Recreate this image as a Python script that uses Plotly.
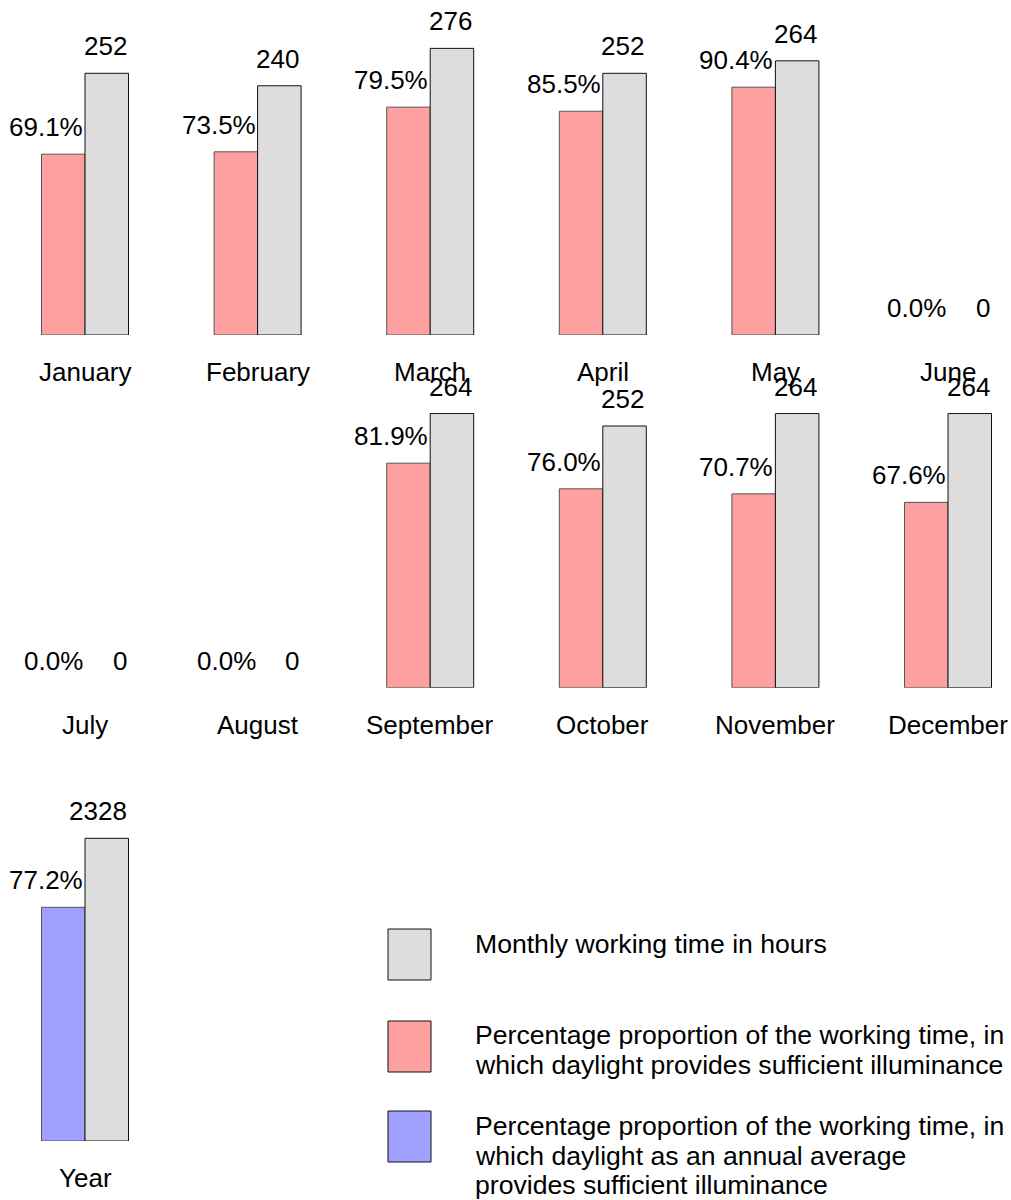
import plotly.graph_objects as go

# ---------------- data ----------------
months = ["January", "February", "March", "April", "May", "June",
          "July", "August", "September", "October", "November", "December"]
hours = [252, 240, 276, 252, 264, 0, 0, 0, 264, 252, 264, 264]
pct = [69.1, 73.5, 79.5, 85.5, 90.4, 0.0, 0.0, 0.0, 81.9, 76.0, 70.7, 67.6]
year_label = "Year"
year_hours = 2328
year_pct = 77.2

legend_lines = [
    ["Monthly working time in hours"],
    ["Percentage proportion of the working time, in",
     "which daylight provides sufficient illuminance"],
    ["Percentage proportion of the working time, in",
     "which daylight as an annual average",
     "provides sufficient illuminance"],
]

# ---------------- style ----------------
FONT = "Liberation Sans, Arial, sans-serif"
FS = 26
PINK = "#FFA0A0"
GREY = "#DDDDDD"
BLUE = "#A0A0FF"
W = 0.252   # bar width in x units
legend_colors = [GREY, PINK, BLUE]

H = 1200
def py(pix):
    return 1 - pix / H

fig = go.Figure()
annotations = []

rows = [("y", months[:6], hours[:6], pct[:6]),
        ("y2", months[6:], hours[6:], pct[6:])]

for yax, mnames, hrs, pcs in rows:
    xs = list(range(len(mnames)))
    daylight = [h * p / 100 for h, p in zip(hrs, pcs)]
    fig.add_bar(x=xs, y=daylight, width=W, offset=-W, yaxis=yax, xaxis="x",
                marker=dict(color=PINK, line=dict(color="#555555",
                                                  width=[1 if v > 0 else 0 for v in daylight])),
                showlegend=False, hoverinfo="skip")
    fig.add_bar(x=xs, y=hrs, width=W, offset=0, yaxis=yax, xaxis="x",
                marker=dict(color=GREY, line=dict(color="#111111",
                                                  width=[1 if v > 0 else 0 for v in hrs])),
                showlegend=False, hoverinfo="skip")
    for x, m, h, d, p in zip(xs, mnames, hrs, daylight, pcs):
        annotations.append(dict(x=x, y=d, xref="x", yref=yax, text=f"{p:.1f}%",
                                xanchor="right", yanchor="bottom", yshift=10,
                                showarrow=False))
        annotations.append(dict(x=x + W, y=h, xref="x", yref=yax, text=f"{h}",
                                xanchor="right", yanchor="bottom", yshift=10,
                                showarrow=False))
        annotations.append(dict(x=x, y=0, xref="x", yref=yax, text=m,
                                xanchor="center", yanchor="top", yshift=-20,
                                showarrow=False))

# year panel
year_day = year_hours * year_pct / 100
fig.add_bar(x=[0], y=[year_day], width=W, offset=-W, yaxis="y3", xaxis="x",
            marker=dict(color=BLUE, line=dict(color="#555555", width=1)),
            showlegend=False, hoverinfo="skip")
fig.add_bar(x=[0], y=[year_hours], width=W, offset=0, yaxis="y3", xaxis="x",
            marker=dict(color=GREY, line=dict(color="#111111", width=1)),
            showlegend=False, hoverinfo="skip")
annotations.append(dict(x=0, y=year_day, xref="x", yref="y3", text=f"{year_pct:.1f}%",
                        xanchor="right", yanchor="bottom", yshift=10, showarrow=False))
annotations.append(dict(x=W, y=year_hours, xref="x", yref="y3", text=f"{year_hours}",
                        xanchor="right", yanchor="bottom", yshift=10, showarrow=False))
annotations.append(dict(x=0, y=0, xref="x", yref="y3", text=year_label,
                        xanchor="center", yanchor="top", yshift=-20, showarrow=False))

# legend (custom)
shapes = []
box_tops = [929, 1021, 1111]
first_line_centers = [944, 1035, 1126]
LINE_STEP = 29.5
for top, c0, col, lines in zip(box_tops, first_line_centers, legend_colors, legend_lines):
    shapes.append(dict(type="rect", xref="paper", yref="paper",
                       x0=388 / 1011, x1=431 / 1011, y0=py(top + 51), y1=py(top),
                       fillcolor=col, line=dict(color="#111111", width=1)))
    for k, ln in enumerate(lines):
        annotations.append(dict(x=473 / 1011, y=py(c0 + k * LINE_STEP),
                                xref="paper", yref="paper", text=ln,
                                xanchor="left", yanchor="middle", align="left",
                                font=dict(size=26.6), showarrow=False))

x_unit = 172.6
x0 = -85 / x_unit
x1 = (1011 - 85) / x_unit

hidden = dict(visible=False, showgrid=False, zeroline=False, fixedrange=True)
fig.update_layout(
    width=1011, height=H,
    margin=dict(l=0, r=0, t=0, b=0),
    paper_bgcolor="white", plot_bgcolor="rgba(0,0,0,0)",
    font=dict(family=FONT, size=FS, color="black"),
    barmode="overlay",
    xaxis=dict(range=[x0, x1], domain=[0, 1], **hidden),
    yaxis=dict(range=[0, 335 / 1.0385], domain=[py(335), 1.0], anchor="x", **hidden),
    yaxis2=dict(range=[0, 335 / 1.0385], domain=[py(687.7), py(352.7)], anchor="x", **hidden),
    yaxis3=dict(range=[0, 351 / 0.13003], domain=[py(1141), py(790)], anchor="x", **hidden),
    annotations=annotations,
    shapes=shapes,
)

fig.write_html("out.html", config={"displayModeBar": False},
               post_script="document.body.style.margin='0';")
